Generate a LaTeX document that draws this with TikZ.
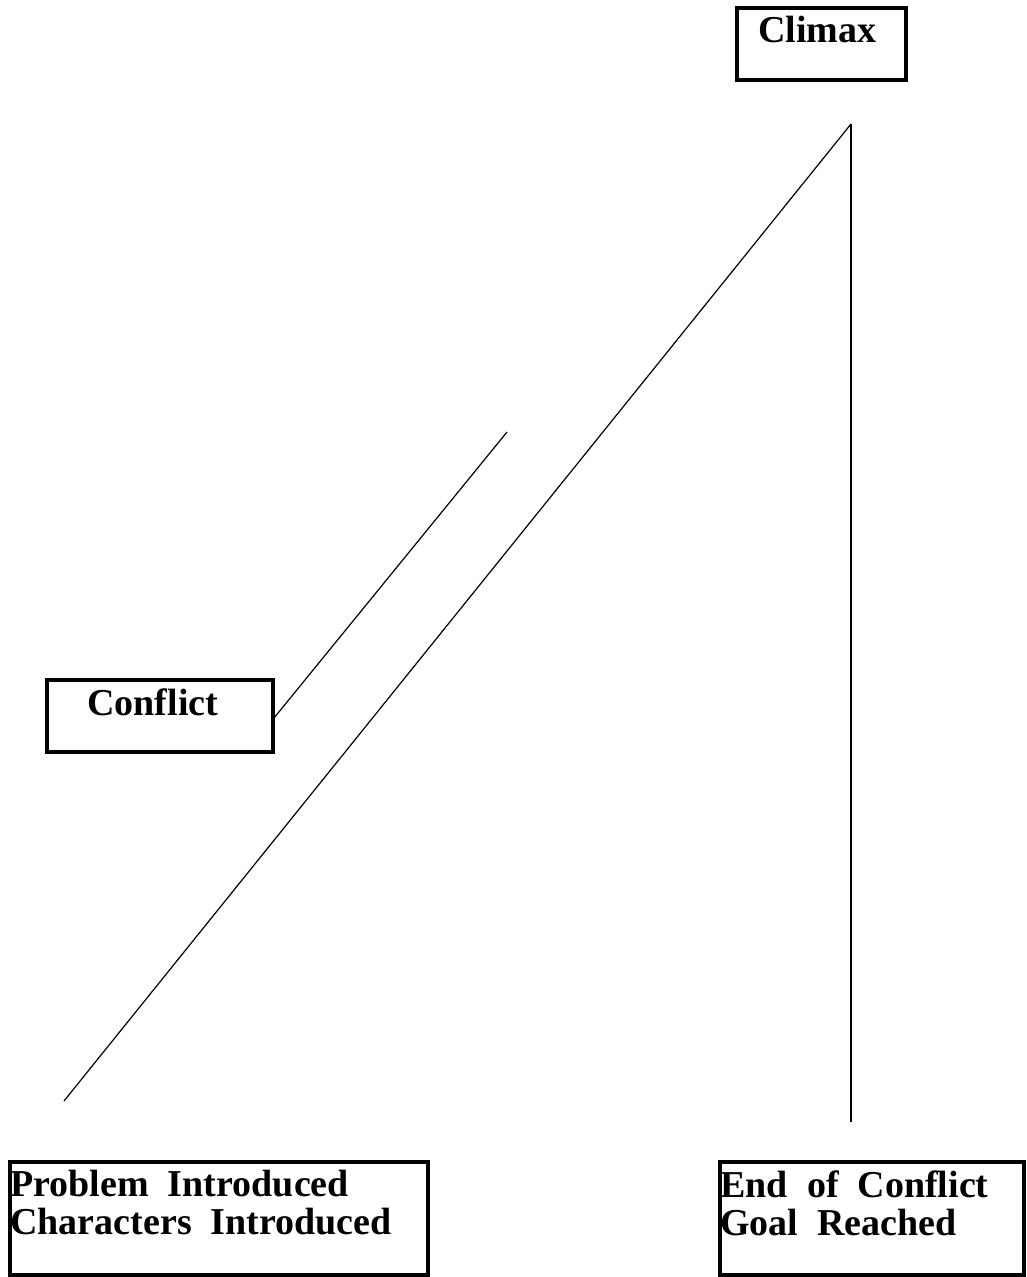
\documentclass[tikz,border=0pt]{standalone}
\usepackage{fontspec}
\setmainfont{Liberation Serif}
\usetikzlibrary{positioning}

\begin{document}
\begin{tikzpicture}[x=0.5pt, y=-0.5pt,
    plotbox/.style={draw, line width=2pt},
    plotlabel/.style={inner sep=0pt, align=left, font=\fontsize{19}{19}\selectfont\bfseries},
    arc line/.style={line width=0.6pt}]
    \useasboundingbox (0,0) rectangle (1026,1277);

    % boxes
    \draw[plotbox] (737,8) rectangle (906,80);
    \draw[plotbox] (47,680) rectangle (273,752);
    \draw[plotbox] (10,1162) rectangle (428,1275);
    \draw[plotbox] (720,1162) rectangle (1024,1275);

    % box texts
    \node[plotlabel, anchor=base west] (climax) at (758,43) {Climax};
    \node[plotlabel, anchor=base west] (conflict) at (87,715) {Conflict};
    \node[plotlabel, anchor=north west] (start) at (10,1170)
      {Problem\ \ Introduced\\Characters\ \ Introduced};
    \node[plotlabel, anchor=north west] (end) at (720,1170)
      {End\ \ of\ \ Conflict\\Goal\ \ Reached};

    % line ends
    \coordinate (rise0) at (64,1101);
    \coordinate (peak) at (851,124);
    \coordinate (fall1) at (851,1122);
    \coordinate (conf0) at (274,718);
    \coordinate (conf1) at (507,432);

    % rising action, falling action
    \draw[arc line] (rise0) -- (peak);
    \draw[arc line] (peak) -- (fall1);
    \draw[arc line] (conf0) -- (conf1);
\end{tikzpicture}
\end{document}
